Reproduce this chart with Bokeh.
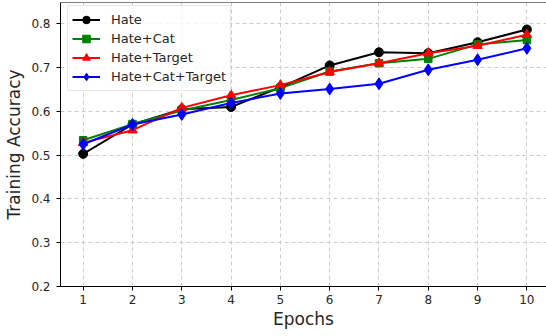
from bokeh.plotting import figure
from bokeh.models import Range1d, FixedTicker, Legend, LegendItem, Span
from bokeh.embed import file_html
from bokeh.resources import INLINE

epochs = [1, 2, 3, 4, 5, 6, 7, 8, 9, 10]
hate = [0.503, 0.570, 0.605, 0.610, 0.655, 0.705, 0.735, 0.733, 0.758, 0.787]
hate_cat = [0.534, 0.571, 0.602, 0.626, 0.653, 0.691, 0.710, 0.720, 0.753, 0.763]
hate_target = [0.528, 0.557, 0.608, 0.637, 0.660, 0.690, 0.710, 0.733, 0.750, 0.775]
hate_cat_target = [0.525, 0.570, 0.593, 0.619, 0.641, 0.651, 0.663, 0.695, 0.718, 0.744]
y_ticks = [0.2, 0.3, 0.4, 0.5, 0.6, 0.7, 0.8]

FONT = "DejaVu Sans"
Y_TOP = 0.8487

p = figure(width=546, height=336, output_backend="svg", toolbar_location=None,
           x_range=Range1d(0.540, 10.398), y_range=Range1d(0.2, Y_TOP),
           min_border_left=60, min_border_right=0, min_border_top=2, min_border_bottom=50)

p.outline_line_color = None
p.add_layout(Span(location=Y_TOP, dimension="width", line_color="black", line_width=1))

for ax in (p.xaxis[0], p.yaxis[0]):
    ax.axis_line_color = "black"
    ax.major_tick_line_color = "black"
    ax.major_tick_out = 4
    ax.major_tick_in = 0
    ax.minor_tick_out = 0
    ax.minor_tick_in = 0
    ax.major_label_text_font = FONT
    ax.major_label_text_font_size = "12px"
    ax.major_label_text_color = "#262626"
    ax.axis_label_text_font = FONT
    ax.axis_label_text_font_size = "17px"
    ax.axis_label_text_font_style = "normal"
    ax.axis_label_text_color = "#262626"

p.xaxis.ticker = FixedTicker(ticks=epochs)
p.yaxis.ticker = FixedTicker(ticks=y_ticks)
p.yaxis.formatter.use_scientific = False
p.xaxis.axis_label = "Epochs"
p.yaxis.axis_label = "Training Accuracy"
p.xaxis.major_label_standoff = 4
p.yaxis.major_label_standoff = 6
p.xaxis.axis_label_standoff = 2
p.yaxis.axis_label_standoff = 4

for g in (p.xgrid[0], p.ygrid[0]):
    g.grid_line_color = "#cccccc"
    g.grid_line_dash = "4 3"
    g.grid_line_width = 1
p.xgrid.ticker = FixedTicker(ticks=epochs)
p.ygrid.ticker = FixedTicker(ticks=y_ticks)

series = [
    ("Hate", hate, "black", "circle", 9),
    ("Hate+Cat", hate_cat, "green", "square", 7.5),
    ("Hate+Target", hate_target, "red", "triangle", 9.5),
    ("Hate+Cat+Target", hate_cat_target, "blue", "diamond", 12),
]
items = []
for name, ys, color, marker, size in series:
    l = p.line(epochs, ys, line_color=color, line_width=2)
    s = p.scatter(epochs, ys, marker=marker, size=size, fill_color=color, line_color=color)
    items.append(LegendItem(label=name, renderers=[l, s]))

legend = Legend(items=items, location=(7, 195))
legend.label_text_font = FONT
legend.label_text_font_size = "13px"
legend.label_text_color = "#262626"
legend.glyph_width = 28
legend.glyph_height = 19
legend.label_height = 19
legend.label_standoff = 11
legend.spacing = 0
legend.padding = 4
legend.margin = 0
legend.border_line_color = "#d0d0d0"
legend.border_line_width = 1
legend.background_fill_alpha = 0.8
p.add_layout(legend, "center")

open("out.html", "w").write(file_html(p, INLINE))
